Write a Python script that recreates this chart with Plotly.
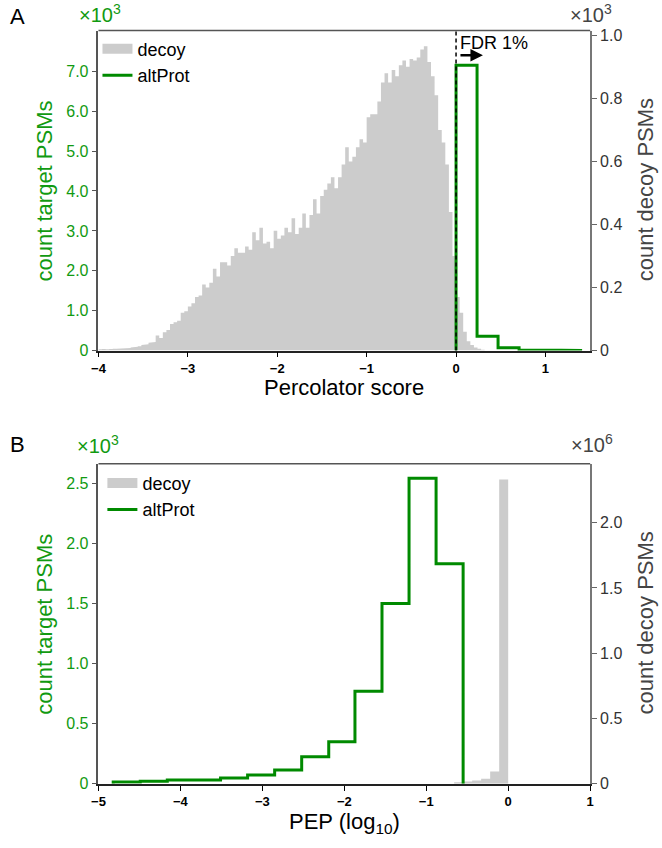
import plotly.graph_objects as go

W, H = 662, 848

# ---------------- Panel A data (Percolator score) ----------------
decoy_score_start = -4.0
decoy_score_binwidth = 0.04
# decoy counts, in thousands (right axis, x10^3)
decoy_score_counts_k = [
    0.004, 0.005, 0.004, 0.005, 0.006, 0.006, 0.007, 0.008, 0.008, 0.010,
    0.012, 0.014, 0.018, 0.020, 0.025, 0.027, 0.048, 0.040, 0.058, 0.065,
    0.084, 0.090, 0.095, 0.120, 0.125, 0.140, 0.150, 0.170, 0.175, 0.210,
    0.200, 0.215, 0.260, 0.235, 0.280, 0.280, 0.270, 0.300, 0.325, 0.310,
    0.310, 0.330, 0.320, 0.375, 0.350, 0.390, 0.340, 0.345, 0.325, 0.380,
    0.355, 0.365, 0.390, 0.375, 0.420, 0.370, 0.390, 0.435, 0.390, 0.430,
    0.480, 0.435, 0.490, 0.510, 0.530, 0.550, 0.515, 0.550, 0.590, 0.645,
    0.600, 0.615, 0.645, 0.670, 0.660, 0.740, 0.750, 0.750, 0.790, 0.850,
    0.880, 0.850, 0.890, 0.870, 0.905, 0.920, 0.900, 0.925, 0.920, 0.930,
    0.955, 0.965, 0.915, 0.870, 0.810, 0.700, 0.660, 0.590, 0.440, 0.300,
    0.170, 0.120, 0.060, 0.030, 0.018, 0.010, 0.006, 0.003,
]
altprot_score_edges = [0.0, 0.235, 0.47, 0.705, 0.94, 1.175, 1.41]
altprot_score_counts_k = [7.15, 0.36, 0.07, 0.012, 0.006, 0.005]
fdr_threshold = 0.0

# ---------------- Panel B data (PEP, log10) ----------------
decoy_pep_edges = [-0.66, -0.55, -0.44, -0.33, -0.22, -0.11, 0.0]
decoy_pep_counts_m = [0.013, 0.018, 0.026, 0.040, 0.094, 2.33]
altprot_pep_edges = [-4.82, -4.49, -4.16, -3.84, -3.51, -3.18, -2.85,
                     -2.52, -2.19, -1.87, -1.54, -1.21, -0.88, -0.55]
altprot_pep_counts_k = [0.015, 0.022, 0.033, 0.033, 0.049, 0.074, 0.115,
                        0.225, 0.35, 0.77, 1.50, 2.54, 1.83]

# tick definitions
xA_ticks = [-4, -3, -2, -1, 0, 1]
xB_ticks = [-5, -4, -3, -2, -1, 0, 1]
yA_left_ticks = [0, 1, 2, 3, 4, 5, 6, 7]
yA_right_ticks = [0, 0.2, 0.4, 0.6, 0.8, 1.0]
yB_left_ticks = [0, 0.5, 1.0, 1.5, 2.0, 2.5]
yB_right_ticks = [0, 0.5, 1.0, 1.5, 2.0]

GREEN_LINE = "#008a00"
GREEN_TEXT = "#119a11"
GRAY = "#cccccc"
DARK = "#444444"
FONT = "Liberation Sans, Arial, sans-serif"


def fmt_tick(v, dec=1):
    if v == 0:
        return "0"
    s = f"{abs(v):.{dec}f}"
    return ("\u2212" if v < 0 else "") + s


def step_xy(edges, counts):
    xs, ys = [edges[0]], [0]
    for i, c in enumerate(counts):
        xs += [edges[i], edges[i + 1]]
        ys += [c, c]
    xs.append(edges[-1])
    ys.append(0)
    return xs, ys


def px(x):
    return x / W


def py(y):
    return 1 - y / H


decoy_score_edges = [decoy_score_start + decoy_score_binwidth * i
                     for i in range(len(decoy_score_counts_k) + 1)]

fig = go.Figure()

# legend proxies + panel A
fig.add_trace(go.Scatter(x=[None], y=[None], mode="lines", name="decoy",
                         line=dict(color=GRAY, width=10), xaxis="x", yaxis="y",
                         legend="legend"))
xs, ys = step_xy(decoy_score_edges, decoy_score_counts_k)
fig.add_trace(go.Scatter(x=xs, y=ys, mode="lines", fill="tozeroy",
                         fillcolor=GRAY, line=dict(width=0, color=GRAY),
                         showlegend=False, xaxis="x", yaxis="y",
                         hoverinfo="skip"))
xs, ys = step_xy(altprot_score_edges, altprot_score_counts_k)
fig.add_trace(go.Scatter(x=xs, y=ys, mode="lines", name="altProt",
                         line=dict(color=GREEN_LINE, width=3),
                         xaxis="x", yaxis="y2", legend="legend"))

# panel B
fig.add_trace(go.Scatter(x=[None], y=[None], mode="lines", name="decoy",
                         line=dict(color=GRAY, width=10), xaxis="x2", yaxis="y3",
                         legend="legend2"))
xs, ys = step_xy(decoy_pep_edges, decoy_pep_counts_m)
fig.add_trace(go.Scatter(x=xs, y=ys, mode="lines", fill="tozeroy",
                         fillcolor=GRAY, line=dict(width=0, color=GRAY),
                         showlegend=False, xaxis="x2", yaxis="y3",
                         hoverinfo="skip"))
xs, ys = step_xy(altprot_pep_edges, altprot_pep_counts_k)
fig.add_trace(go.Scatter(x=xs, y=ys, mode="lines", name="altProt",
                         line=dict(color=GREEN_LINE, width=3),
                         xaxis="x2", yaxis="y4", legend="legend2"))

XDOM = [px(93), px(593)]
A_DOM = [py(352), py(27)]
B_DOM = [py(792), py(467)]

xcommon = dict(ticks="outside", ticklen=5, tickwidth=1.3, tickcolor="black",
               showline=True, linecolor="#222222", linewidth=1.5,
               showgrid=False, zeroline=False,
               tickfont=dict(size=13, color="black", family=FONT, weight="bold"))
yleft = dict(ticks="outside", ticklen=5, tickwidth=1.3, tickcolor="#555555",
             showline=True, linecolor="#555555", linewidth=1.5,
             showgrid=False, zeroline=False, side="left",
             tickfont=dict(size=16, color=GREEN_TEXT, family=FONT))
yright = dict(ticks="outside", ticklen=5, tickwidth=1.3, tickcolor="#666666",
              showline=True, linecolor="#777777", linewidth=1.5,
              showgrid=False, zeroline=False, side="right",
              tickfont=dict(size=16, color="#333333", family=FONT))

fig.update_layout(
    width=W, height=H, margin=dict(l=0, r=0, t=0, b=0),
    paper_bgcolor="white", plot_bgcolor="white",
    font=dict(family=FONT, size=16, color="black"),
    xaxis=dict(domain=XDOM, anchor="y", range=[-4, 1.5],
               tickvals=xA_ticks, ticktext=[fmt_tick(v, 0) for v in xA_ticks],
               **xcommon),
    yaxis=dict(domain=A_DOM, anchor="x", range=[0, 1.015],
               tickvals=yA_right_ticks,
               ticktext=[fmt_tick(v) for v in yA_right_ticks], **yright),
    yaxis2=dict(overlaying="y", anchor="x", range=[0, 8.02],
                tickvals=yA_left_ticks,
                ticktext=[fmt_tick(v) for v in yA_left_ticks], **yleft),
    xaxis2=dict(domain=XDOM, anchor="y3", range=[-5, 1],
                tickvals=xB_ticks, ticktext=[fmt_tick(v, 0) for v in xB_ticks],
                **xcommon),
    yaxis3=dict(domain=B_DOM, anchor="x2", range=[0, 2.45],
                tickvals=yB_right_ticks,
                ticktext=[fmt_tick(v) for v in yB_right_ticks], **yright),
    yaxis4=dict(overlaying="y3", anchor="x2", range=[0, 2.66],
                tickvals=yB_left_ticks,
                ticktext=[fmt_tick(v) for v in yB_left_ticks], **yleft),
    legend=dict(x=px(92), y=py(27), xanchor="left", yanchor="top",
                bgcolor="rgba(0,0,0,0)", font=dict(size=18, color="black"),
                itemwidth=30, tracegroupgap=0),
    legend2=dict(x=px(97), y=py(468), xanchor="left", yanchor="top",
                 bgcolor="rgba(0,0,0,0)", font=dict(size=18, color="black"),
                 itemwidth=30, tracegroupgap=0),
    showlegend=True,
)

shapes = [
    dict(type="line", xref="paper", yref="paper", x0=XDOM[0], x1=XDOM[1],
         y0=A_DOM[1], y1=A_DOM[1], line=dict(color="#555555", width=1.5)),
    dict(type="line", xref="paper", yref="paper", x0=XDOM[0], x1=XDOM[1],
         y0=B_DOM[1], y1=B_DOM[1], line=dict(color="#555555", width=1.5)),
    dict(type="line", xref="x", yref="paper", x0=fdr_threshold, x1=fdr_threshold,
         y0=A_DOM[0], y1=A_DOM[1], layer="above",
         line=dict(color="black", width=1.5, dash="4px,3px")),
]
fig.update_layout(shapes=shapes)


def ann(text, x, y, size=20, color="black", angle=0, xanchor="center", **kw):
    return dict(text=text, x=px(x), y=py(y), xref="paper", yref="paper",
                showarrow=False, textangle=angle, xanchor=xanchor,
                yanchor="middle", font=dict(size=size, color=color, family=FONT),
                **kw)


annotations = [
    ann("A", 11, 13, size=22),
    ann("\u00d710<sup>3</sup>", 95, 10, size=20, color=GREEN_TEXT),
    ann("\u00d710<sup>3</sup>", 594, 10, size=20, color=DARK),
    ann("count target PSMs", 38, 190, size=22, color=GREEN_TEXT, angle=-90),
    ann("count decoy PSMs", 649, 189, size=22, color=DARK, angle=-90),
    ann("Percolator score", 343, 389, size=22),
    ann("FDR 1%", 459, 40, size=18, xanchor="left"),
    ann("B", 11, 447, size=22),
    ann("\u00d710<sup>3</sup>", 93, 447, size=20, color=GREEN_TEXT),
    ann("\u00d710<sup>6</sup>", 595, 446, size=20, color=DARK),
    ann("count target PSMs", 38, 630, size=22, color=GREEN_TEXT, angle=-90),
    ann("count decoy PSMs", 649, 629, size=22, color=DARK, angle=-90),
    ann("PEP (log<sub>10</sub>)", 343, 832, size=22),
    dict(text="", x=px(484), y=py(52), xref="paper", yref="paper",
         ax=-24, ay=0, axref="pixel", ayref="pixel", showarrow=True,
         arrowhead=2, arrowsize=1, arrowwidth=2.5, arrowcolor="black"),
]
fig.update_layout(annotations=annotations)

fig.write_html(
    "out.html",
    config={"displayModeBar": False},
    post_script="document.body.style.margin='0';document.body.style.overflow='hidden';",
)
